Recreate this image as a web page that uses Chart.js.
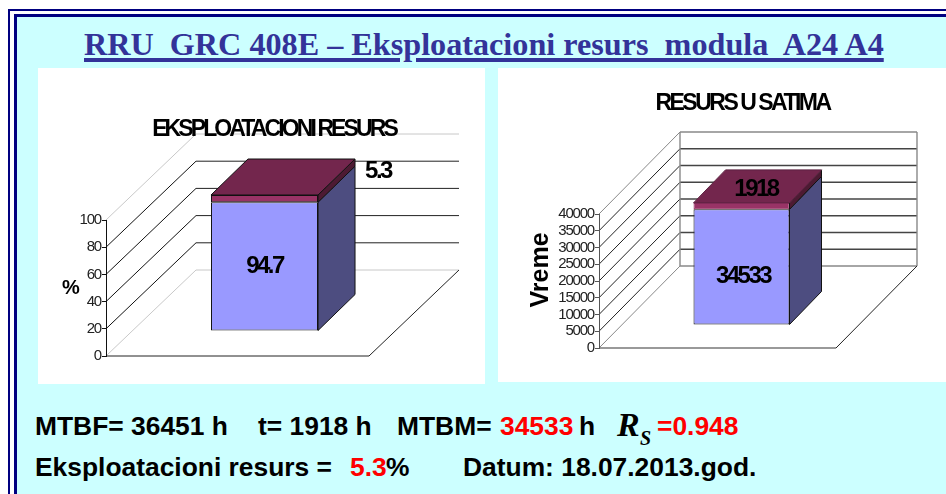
<!DOCTYPE html>
<html>
<head>
<meta charset="utf-8">
<script src="https://cdn.jsdelivr.net/npm/chart.js@4"></script>
<style>
  html, body { margin:0; padding:0; width:946px; height:494px; overflow:hidden; background:#fff; }
  .frame { position:absolute; left:8px; top:9px; width:960px; height:520px; border:2px solid #000080; }
  .inner { position:absolute; left:14px; top:14px; width:960px; height:520px; border:3px solid #000080; background:#ccffff; }
  .panel { position:absolute; background:#fff; }
  canvas { position:absolute; left:0; top:0; }
  .t { position:absolute; white-space:pre; font:bold 26.4px/1 "Liberation Sans", Arial, sans-serif; color:#000; }
  .red { color:#ff0000; }
  #heading { left:84px; top:28px; font:bold 32.2px/1 "Liberation Serif", "Times New Roman", serif; color:#333399; text-decoration:underline; text-decoration-thickness:3.5px; text-underline-offset:3px; }
  .rs { font:italic bold 34px/1 "Liberation Serif", serif; }
  .rs2 { font:italic bold 20px/1 "Liberation Serif", serif; }
</style>
</head>
<body>
<div class="frame"></div>
<div class="inner"></div>
<div class="panel" style="left:38px;top:68px;width:447px;height:316px"><canvas id="resursChart" width="447" height="316"></canvas></div>
<div class="panel" style="left:498px;top:68px;width:448px;height:314px"><canvas id="satiChart" width="448" height="314"></canvas></div>

<div class="t" id="heading">RRU  GRC 408E – Eksploatacioni resurs  modula  A24 A4</div>
<div class="t" style="left:35px;top:413px">MTBF= 36451 h</div>
<div class="t" style="left:258px;top:413px">t= 1918 h</div>
<div class="t" style="left:397px;top:413px">MTBM=</div>
<div class="t red" style="left:500px;top:413px">34533</div>
<div class="t" style="left:579px;top:413px">h</div>
<div class="t rs" style="left:617px;top:408px">R</div>
<div class="t rs2" style="left:640px;top:428px">S</div>
<div class="t red" style="left:657px;top:413px">=0.948</div>
<div class="t" style="left:35px;top:454px">Eksploatacioni resurs =</div>
<div class="t red" style="left:350px;top:454px">5.3</div>
<div class="t" style="left:386px;top:454px">%</div>
<div class="t" style="left:463px;top:454px">Datum: 18.07.2013.god.</div>

<script>
const categories = ['A24 A4'];
const resursValues = [94.7];
const resursLeft = [5.3];
const resursTicks = [0, 20, 40, 60, 80, 100];
const satiValues = [34533];
const satiLeft = [1918];
const satiTicks = [0, 5000, 10000, 15000, 20000, 25000, 30000, 35000, 40000];

const SANS = '"Liberation Sans", Arial, sans-serif';

function text(ctx, str, x, y, font, spacing, rot) {
  ctx.save();
  ctx.font = font; ctx.letterSpacing = spacing + 'px'; ctx.fillStyle = '#000';
  ctx.textAlign = 'center'; ctx.textBaseline = 'middle';
  ctx.translate(x, y); if (rot) ctx.rotate(rot);
  ctx.fillText(str, 0, 0);
  ctx.restore();
}
function poly(ctx, pts, fill, stroke) {
  ctx.beginPath();
  pts.forEach((p, i) => i ? ctx.lineTo(p[0], p[1]) : ctx.moveTo(p[0], p[1]));
  ctx.closePath();
  ctx.fillStyle = fill; ctx.fill();
  ctx.lineWidth = 1; ctx.strokeStyle = stroke || '#111'; ctx.stroke();
}
function line(ctx, x1, y1, x2, y2, color, w) {
  ctx.beginPath(); ctx.moveTo(x1, y1); ctx.lineTo(x2, y2);
  ctx.strokeStyle = color; ctx.lineWidth = w || 1; ctx.stroke();
}

// excel style 3D box: walls behind, bars pushed back, side and top faces added
const box3d = {
  id: 'box3d',
  beforeDraw(chart, args, o) {
    const ctx = chart.ctx, a = chart.chartArea, y = chart.scales.y;
    ctx.letterSpacing = o.tickSpacing + 'px';
    const bx = a.right + o.wallDx;
    y.ticks.forEach((t, i) => {
      const py = y.getPixelForValue(t.value);
      const edge = i === 0 || i === y.ticks.length - 1;
      line(ctx, a.left, py, a.left + o.wallDx, py - o.wallDy, edge ? o.edgeColor : o.gridColor);
      line(ctx, a.left + o.wallDx, py - o.wallDy, bx, py - o.wallDy, edge ? o.edgeColor : o.wallColor, o.wallWidth);
    });
    if (o.wallEdges) {
      line(ctx, a.left + o.wallDx, a.top - o.wallDy, a.left + o.wallDx, a.bottom - o.wallDy, o.edgeColor, o.wallWidth);
      line(ctx, bx, a.top - o.wallDy, bx, a.bottom - o.wallDy, o.edgeColor, o.wallWidth);
    }
    line(ctx, a.left, a.bottom, a.right, a.bottom, o.floorColor, o.wallWidth);
    line(ctx, a.right, a.bottom, bx, a.bottom - o.wallDy, '#222');
  },
  beforeDatasetsDraw(chart, args, o) {
    chart.ctx.save();
    chart.ctx.letterSpacing = '0px';
    chart.ctx.translate(o.barDx, -o.barDy);
  },
  afterDatasetsDraw(chart, args, o) {
    const ctx = chart.ctx, n = chart.data.datasets.length;
    chart.data.datasets.forEach((ds, i) => {
      const el = chart.getDatasetMeta(i).data[0];
      const r = el.x + el.width / 2, l = el.x - el.width / 2;
      poly(ctx, [[r, el.y], [r + o.depthX, el.y - o.depthY], [r + o.depthX, el.base - o.depthY], [r, el.base]], ds.sideColor);
      if (i === n - 1) poly(ctx, [[l, el.y], [l + o.depthX, el.y - o.depthY], [r + o.depthX, el.y - o.depthY], [r, el.y]], ds.topColor, o.topStroke);
    });
    ctx.restore();
  },
  afterDraw(chart, args, o) {
    const ctx = chart.ctx;
    chart.data.datasets.forEach((ds, i) => {
      const el = chart.getDatasetMeta(i).data[0];
      const off = o.labelOffsets[i];
      text(ctx, String(ds.data[0]), el.x + o.barDx + off[0], (el.y + el.base) / 2 - o.barDy + off[1], 'bold 24px ' + SANS, -2.5);
    });
    text(ctx, o.title, o.titleX, o.titleY, 'bold 23px ' + SANS, o.titleSpacing);
    text(ctx, o.axisTitle, o.axisX, o.axisY, o.axisFont, 0, o.axisRot);
  }
};

function makeChart(id, values, left, ticks, yMax, sizes, look) {
  return new Chart(document.getElementById(id), {
    type: 'bar',
    data: { labels: categories, datasets: [
      { data: values, backgroundColor: '#9999ff', borderColor: '#111', borderWidth: 1, borderSkipped: false, sideColor: '#4d4d80', barPercentage: look.barPct, categoryPercentage: 1 },
      { data: left, backgroundColor: '#993366', borderColor: look.topBorder, borderWidth: 1, borderSkipped: false, sideColor: '#4d1a33', topColor: '#73264d', barPercentage: look.barPct, categoryPercentage: 1 }
    ] },
    plugins: [box3d],
    options: {
      responsive: false, animation: false, events: [],
      layout: { padding: { left: 0, top: sizes.top, right: sizes.right, bottom: sizes.bottom } },
      plugins: { legend: { display: false }, tooltip: { enabled: false }, title: { display: false }, box3d: look },
      scales: {
        x: { stacked: true, display: false },
        y: {
          stacked: true, min: 0, max: yMax,
          afterBuildTicks: ax => { ax.ticks = ticks.map(v => ({ value: v })); },
          afterFit: ax => { ax.width = sizes.left; },
          grid: { drawOnChartArea: false, drawTicks: true, tickLength: 4, color: look.axisColor },
          border: { color: look.axisColor, width: 1 },
          ticks: { autoSkip: false, padding: 1, color: '#222', font: { family: SANS, size: 15 }, callback: v => String(v) }
        }
      }
    }
  });
}

document.addEventListener('DOMContentLoaded', function() {
  makeChart('resursChart', resursValues, resursLeft, resursTicks, 100,
    { left: 68, top: 152, right: 116, bottom: 28 },
    { wallDx: 90, wallDy: 86, barDx: 27, barDy: 25, depthX: 37, depthY: 36, barPct: 0.407,
      edgeColor: '#c8c8c8', gridColor: '#111', wallColor: '#222', floorColor: '#222', axisColor: '#111', wallWidth: 1,
      wallEdges: false, topBorder: '#111', topStroke: '#111', tickSpacing: -1.2,
      labelOffsets: [[0, 0], [113.5, -27]],
      title: 'EKSPLOATACIONI RESURS', titleX: 236, titleY: 62, titleSpacing: -2.9,
      axisTitle: '%', axisX: 33, axisY: 220, axisFont: 'bold 20px ' + SANS, axisRot: 0 });

  makeChart('satiChart', satiValues, satiLeft, satiTicks, 40000,
    { left: 101, top: 146, right: 110, bottom: 34 },
    { wallDx: 81, wallDy: 82, barDx: 24, barDy: 23, depthX: 32, depthY: 33, barPct: 0.405,
      edgeColor: '#888', gridColor: '#222', wallColor: '#444', floorColor: '#777', axisColor: '#555', wallWidth: 1.4,
      wallEdges: true, topBorder: '#993366', topStroke: '#5c2240', tickSpacing: -1.2,
      labelOffsets: [[1.5, 9.5], [14.5, -16.5]],
      title: 'RESURS U SATIMA', titleX: 244.5, titleY: 36, titleSpacing: -2.5,
      axisTitle: 'Vreme', axisX: 43, axisY: 202, axisFont: 'bold 25px ' + SANS, axisRot: -Math.PI / 2 });
});
</script>
</body>
</html>
